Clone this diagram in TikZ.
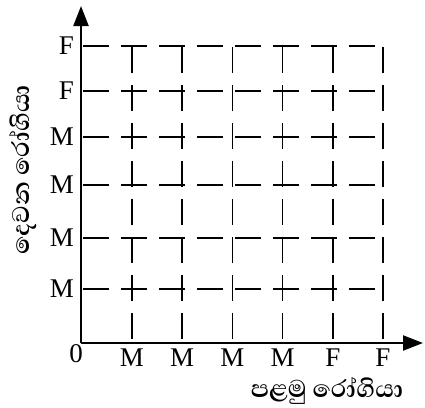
\documentclass[tikz,border=0pt]{standalone}
\usepackage{fontspec}
\setmainfont{Liberation Serif}
\newfontfamily\sinhala[Script=Sinhala]{Abhaya Libre}
\usetikzlibrary{arrows.meta}
\begin{document}
\begin{tikzpicture}[x=1pt,y=-1pt]
	\tikzset{ axis/.style={line width=2.2pt, -{Triangle[length=20pt,width=15pt]}},
		gridline/.style={line width=1.6pt, dash pattern=on 26pt off 12pt},
		sex/.style={font=\fontsize{27}{27}\selectfont, inner sep=0pt},
		patient/.style={font=\sinhala\bfseries\fontsize{31}{31}\selectfont, inner sep=0pt} }
	\useasboundingbox (0,0) rectangle (425,407);
	\coordinate (O) at (81,343);
	\coordinate (xend) at (423,343);
	\coordinate (yend) at (81,6);
	% second patient (rows)
	\foreach \sy/\y [count=\row from 0] in {F/46, F/91, M/137, M/185, M/238, M/289} {
			\draw[gridline] (83,\y) -- (385,\y);
			\node[sex, anchor=east] (r\row) at (74,\y) {\sy};
		}
	% first patient (columns)
	\foreach \sx [count=\col from 0] in {M, M, M, M, F, F} {
			\pgfmathsetmacro{\x}{132+\col*50.2}
			\draw[gridline] (\x,47) -- (\x,343);
			\node[sex] (c\col) at (\x,358) {\sx};
		}
	\draw[axis] (O) -- (xend);
	\draw[axis] (O) -- (yend);
	\node[sex] (zero) at (76,354) {0};
	\node[patient] (first) at (327,391) {පළමු රෝගියා};
	\node[patient, rotate=90] (second) at (23,170) {දෙවන රෝගියා};
\end{tikzpicture}
\end{document}
